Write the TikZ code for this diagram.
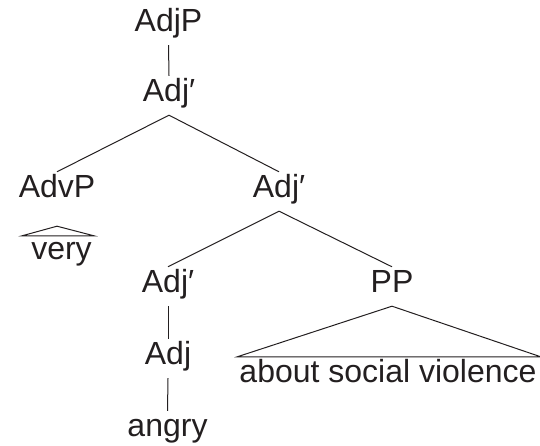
\documentclass[tikz,border=0pt]{standalone}
\usepackage{fontspec}
\setmainfont{Liberation Sans}
\definecolor{ink}{HTML}{231F20}
\begin{document}
\begin{tikzpicture}[x=1pt,y=1pt,
  every node/.style={text=ink, font=\fontsize{32}{32}\selectfont},
  cat/.style={inner sep=0pt, text height=26pt, text depth=13pt, anchor=base},
  leaf/.style={inner sep=0pt, text height=24pt, text depth=0pt, anchor=base},
  branch/.style={draw=ink, line width=1pt},
  roof/.style={draw=ink, line width=1pt, line join=miter}]
\useasboundingbox (0,0) rectangle (540,446);

% category labels
\node[cat] (adjp)  at (168.5,414) {AdjP};
\node[cat] (adjb1) at (169,344)   {Adj′};
\node[cat] (advp)  at (57,248)    {AdvP};
\node[cat] (adjb2) at (279,248)   {Adj′};
\node[cat] (adjb3) at (168,153)   {Adj′};
\node[cat] (pp)    at (392,153)   {PP};
\node[cat] (adj)   at (168,81)    {Adj};
\node[cat] (angry) at (167.5,9)   {angry};

% words under roofs
\node[leaf] (very) at (61.5,186) {very};
\node[leaf] (asv)  at (388,63)   {about social violence};

% branches
\draw[branch] (adjp.south)  -- (adjb1.north);
\draw[branch] (adjb1.south) -- (advp.north);
\draw[branch] (adjb1.south) -- (adjb2.north);
\draw[branch] (adjb2.south) -- (adjb3.north);
\draw[branch] (adjb2.south) -- (pp.north);
\draw[branch] (adjb3.south) -- (adj.north);
\draw[branch] (adj.south)   -- (angry.north);

% roofs
\draw[roof] ([yshift=-15pt]advp.south) -- ([xshift=-9pt]very.north west)
  -- ([xshift=2pt]very.north east) -- cycle;
\draw[roof] (pp.south) -- ([xshift=-2pt,yshift=2pt]asv.north west)
  -- ([xshift=4pt,yshift=2pt]asv.north east) -- cycle;
\end{tikzpicture}
\end{document}
